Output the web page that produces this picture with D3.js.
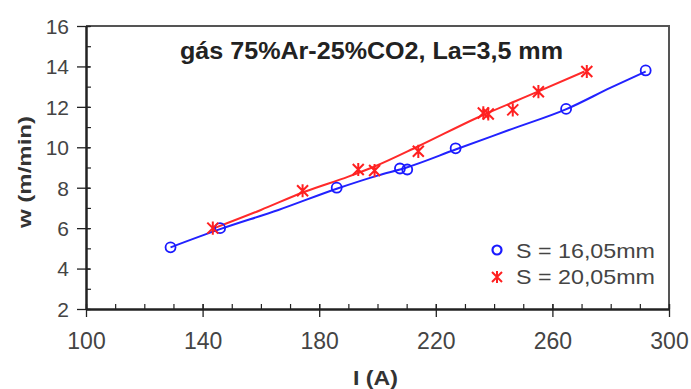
<!DOCTYPE html>
<html>
<head>
<meta charset="utf-8">
<script src="https://cdn.jsdelivr.net/npm/d3@7"></script>
<style>
  body { margin: 0; background: #fff; }
  text { font-family: "Liberation Sans", Arial, sans-serif; }
</style>
</head>
<body>
<div id="chart"></div>
<script>
// measured points
var blueI = [129, 146, 186, 207.7, 210.2, 226.8, 264.7, 292];
var blueW = [5.05, 6.0, 8.0, 8.95, 8.9, 9.95, 11.9, 13.8];
var redI = [143.5, 174.3, 193.4, 199, 214, 236.3, 238, 246.4, 255.2, 271.8];
var redW = [6.0, 7.85, 8.9, 8.85, 9.8, 11.7, 11.65, 11.85, 12.75, 13.75];

// trend lines
var blueFitI = [129, 146, 166, 186, 200, 210, 227, 246, 265, 280, 292];
var blueFitW = [5.05, 5.95, 6.9, 7.95, 8.6, 9.0, 9.9, 10.9, 11.9, 12.95, 13.75];
var redFitI = [144, 160, 175, 190, 199, 214, 234, 255, 271];
var redFitW = [6.0, 6.9, 7.8, 8.55, 9.05, 10.05, 11.45, 12.75, 13.75];

var xTicks = [100, 140, 180, 220, 260, 300];
var yTicks = [2, 4, 6, 8, 10, 12, 14, 16];
var legendLabels = ['S = 16,05mm', 'S = 20,05mm'];
var title = 'gás 75%Ar-25%CO2, La=3,5 mm';

var svgWidth = 691;
var svgHeight = 389;
var margin = { left: 86, right: 22, top: 26, bottom: 80 };
var width = svgWidth - margin.left - margin.right;
var height = svgHeight - margin.top - margin.bottom;

var svg = d3.select('#chart').append('svg')
  .attr('width', svgWidth)
  .attr('height', svgHeight);
var g = svg.append('g')
  .attr('transform', 'translate(' + margin.left + ',' + margin.top + ')');

var xScale = d3.scaleLinear().domain([100, 300]).range([0, width]);
var yScale = d3.scaleLinear().domain([2, 16]).range([height, 0]);

// frame (top / right)
g.append('path')
  .attr('d', 'M0,0H' + width + 'V' + height)
  .attr('fill', 'none')
  .attr('stroke', '#555')
  .attr('stroke-width', 2);

// minor ticks
var xMinor = d3.range(100, 301, 10);
var yMinor = d3.range(2, 16.01, 1);
g.append('g').attr('class', 'axis axis--x-minor')
  .attr('transform', 'translate(0,' + height + ')')
  .call(d3.axisBottom(xScale).tickValues(xMinor).tickSizeInner(-5).tickSizeOuter(0).tickFormat(''))
  .call(function (s) { s.select('.domain').remove(); s.selectAll('line').attr('stroke', '#222').attr('stroke-width', 1.2); });
g.append('g').attr('class', 'axis axis--y-minor')
  .call(d3.axisLeft(yScale).tickValues(yMinor).tickSizeInner(-5).tickSizeOuter(0).tickFormat(''))
  .call(function (s) { s.select('.domain').remove(); s.selectAll('line').attr('stroke', '#222').attr('stroke-width', 1.2); });

// major axes
var xAxis = g.append('g').attr('class', 'axis axis--x')
  .attr('transform', 'translate(0,' + height + ')')
  .call(d3.axisBottom(xScale).tickValues(xTicks).tickSizeInner(8).tickSizeOuter(0).tickPadding(16));
xAxis.selectAll('.tick line').attr('y1', -5).attr('stroke', '#222').attr('stroke-width', 1.3);
xAxis.select('.domain').attr('stroke', '#222').attr('stroke-width', 2.5);
xAxis.selectAll('text')
  .attr('font-size', 23).attr('fill', '#444').attr('font-family', '"Liberation Sans", Arial, sans-serif');

var yAxis = g.append('g').attr('class', 'axis axis--y')
  .call(d3.axisLeft(yScale).tickValues(yTicks).tickSizeInner(9).tickSizeOuter(0).tickPadding(8));
yAxis.selectAll('.tick line').attr('x1', 4).attr('stroke', '#222').attr('stroke-width', 1.3);
yAxis.select('.domain').attr('stroke', '#222').attr('stroke-width', 2.5);
yAxis.selectAll('text')
  .attr('font-size', 21).attr('fill', '#444').attr('font-family', '"Liberation Sans", Arial, sans-serif')
  .attr('dy', '0.35em');

// trend lines
var line = d3.line()
  .x(function (d) { return xScale(d[0]); })
  .y(function (d) { return yScale(d[1]); })
  .curve(d3.curveMonotoneX);

g.append('path')
  .datum(d3.zip(blueFitI, blueFitW))
  .attr('fill', 'none').attr('stroke', '#2222ff').attr('stroke-width', 2)
  .attr('d', line);
g.append('path')
  .datum(d3.zip(redFitI, redFitW))
  .attr('fill', 'none').attr('stroke', '#ff2a2a').attr('stroke-width', 2)
  .attr('d', line);

function star(sel, r) {
  sel.append('path')
    .attr('d', 'M' + (-r) + ',' + (-r) + 'L' + r + ',' + r +
      'M' + (-r) + ',' + r + 'L' + r + ',' + (-r) +
      'M0,' + (-r * 1.2) + 'V' + (r * 1.2))
    .attr('stroke', '#ff2020').attr('stroke-width', 2).attr('fill', 'none');
}

// points
g.selectAll('.pt-blue')
  .data(d3.zip(blueI, blueW))
  .enter().append('circle')
  .attr('class', 'pt-blue')
  .attr('cx', function (d) { return xScale(d[0]); })
  .attr('cy', function (d) { return yScale(d[1]); })
  .attr('r', 5)
  .attr('fill', 'none').attr('stroke', '#1a1aff').attr('stroke-width', 1.8);

g.selectAll('.pt-red')
  .data(d3.zip(redI, redW))
  .enter().append('g')
  .attr('class', 'pt-red')
  .attr('transform', function (d) { return 'translate(' + xScale(d[0]) + ',' + yScale(d[1]) + ')'; })
  .each(function () { star(d3.select(this), 5.5); });

// title
g.append('text')
  .attr('x', 94).attr('y', 33)
  .attr('font-size', 23).attr('font-weight', 'bold').attr('fill', '#222')
  .attr('textLength', 383).attr('lengthAdjust', 'spacingAndGlyphs')
  .text(title);

// legend
var legend = g.append('g').attr('transform', 'translate(411,224)');
legend.append('circle').attr('cx', 0).attr('cy', 0).attr('r', 4.5)
  .attr('fill', 'none').attr('stroke', '#1a1aff').attr('stroke-width', 2.2);
legend.append('g').attr('transform', 'translate(0,27)').call(function (s) { star(s, 5); });
legend.selectAll('.leg-text')
  .data(legendLabels)
  .enter().append('text')
  .attr('class', 'leg-text')
  .attr('x', 19).attr('y', function (d, i) { return i * 26 + 8; })
  .attr('font-size', 21).attr('fill', '#444')
  .attr('textLength', 139).attr('lengthAdjust', 'spacingAndGlyphs')
  .text(function (d) { return d; });

// axis titles
svg.append('text')
  .attr('x', 353).attr('y', 385)
  .attr('font-size', 21).attr('font-weight', 'bold').attr('fill', '#333')
  .attr('textLength', 45).attr('lengthAdjust', 'spacingAndGlyphs')
  .text('I (A)');
svg.append('text')
  .attr('transform', 'translate(31,228) rotate(-90)')
  .attr('font-size', 19).attr('font-weight', 'bold').attr('fill', '#333')
  .attr('textLength', 112).attr('lengthAdjust', 'spacingAndGlyphs')
  .text('w (m/min)');
</script>
</body>
</html>
